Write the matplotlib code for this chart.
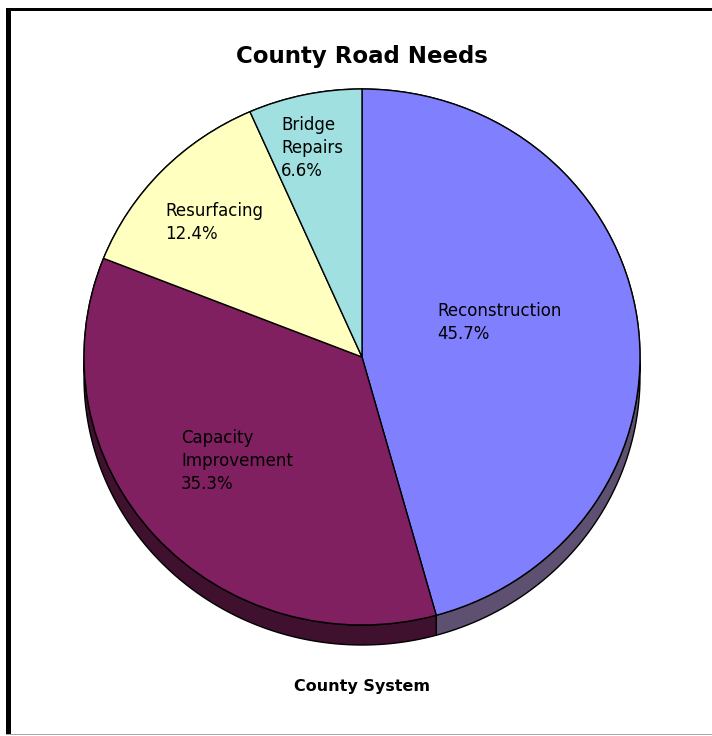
"""
County Road Needs -- Excel-style 3D pie (County System).
"""

import matplotlib
matplotlib.use("Agg")

import matplotlib.pyplot as plt
import numpy as np
from matplotlib.patches import Polygon, Rectangle

# ---------------------------------------------------------------------------
# Data
# ---------------------------------------------------------------------------
CATEGORIES = ["Reconstruction", "Capacity\nImprovement", "Resurfacing", "Bridge\nRepairs"]
SHARES = [45.7, 35.3, 12.4, 6.6]
TITLE = "County Road Needs"
SUBTITLE = "County System"

# ---------------------------------------------------------------------------
# Styles / layout (pixels of a 712x736 image)
# ---------------------------------------------------------------------------
W, H = 712, 736
TOP_COLORS = ["#8080ff", "#802060", "#ffffc0", "#a0e0e0"]
SIDE_COLORS = ["#5e5070", "#40102f", "#808060", "#507070"]
CX, CY = 362, 357          # pie centre
RX, RY = 278, 268          # top face radii
DEPTH_PX = 20              # thickness of the pie
# top-left corner of each label, in pie units
LABEL_XY = [(0.270, 0.205), (-0.651, -0.268), (-0.709, 0.578), (-0.291, 0.899)]


def side_polygon(theta1, theta2, depth, n=120):
    """Side wall of a wedge: arc on top and the same arc pushed down."""
    t = np.radians(np.linspace(theta1, theta2, n))
    top = np.column_stack([np.cos(t), np.sin(t)])
    bottom = top[::-1] - np.array([0.0, depth])
    return np.vstack([top, bottom])


def main():
    fig = plt.figure(figsize=(W / 100, H / 100), dpi=100)
    fig.patch.set_facecolor("white")

    depth = DEPTH_PX / RY
    left = (CX - RX) / W
    bottom = (H - (CY + RY + DEPTH_PX)) / H
    ax = fig.add_axes([left, bottom, 2 * RX / W, (2 * RY + DEPTH_PX) / H])

    wedges, _ = ax.pie(SHARES, colors=TOP_COLORS, startangle=90, counterclock=False,
                       radius=1, frame=False,
                       wedgeprops=dict(edgecolor="black", linewidth=1.0, zorder=3))
    ax.set_xlim(-1, 1)
    ax.set_ylim(-1 - depth, 1)
    ax.set_aspect("auto")
    ax.axis("off")

    # side walls (only the lower half shows under the top face)
    for w, c in zip(wedges, SIDE_COLORS):
        ax.add_patch(Polygon(side_polygon(w.theta1, w.theta2, depth), closed=True,
                             facecolor=c, edgecolor="black", linewidth=1.0,
                             zorder=1, clip_on=False))

    for (x, y), name, share in zip(LABEL_XY, CATEGORIES, SHARES):
        ax.text(x, y, f"{name}\n{share:.1f}%", ha="left", va="top",
                fontsize=12, linespacing=1.36, color="black", zorder=5,
                family="DejaVu Sans")

    fig.text(CX / W, 1 - 56 / H, TITLE, ha="center", va="center",
             fontsize=16.5, fontweight="bold", family="DejaVu Sans")
    fig.text(CX / W, 1 - 687 / H, SUBTITLE, ha="center", va="center",
             fontsize=11.5, fontweight="bold", family="DejaVu Sans")

    # outer frame
    fig.add_artist(Rectangle((6 / W, 1 - 11 / H), 1, 3 / H, transform=fig.transFigure,
                             facecolor="black", edgecolor="none"))
    fig.add_artist(Rectangle((6 / W, 1 - 734 / H), 5 / W, 726 / H, transform=fig.transFigure,
                             facecolor="black", edgecolor="none"))
    fig.add_artist(Rectangle((6 / W, 1 - 735 / H), 1, 1.5 / H, transform=fig.transFigure,
                             facecolor="#a8a8a8", edgecolor="none"))

    fig.savefig("out.png", dpi=100, facecolor="white")


if __name__ == "__main__":
    main()
